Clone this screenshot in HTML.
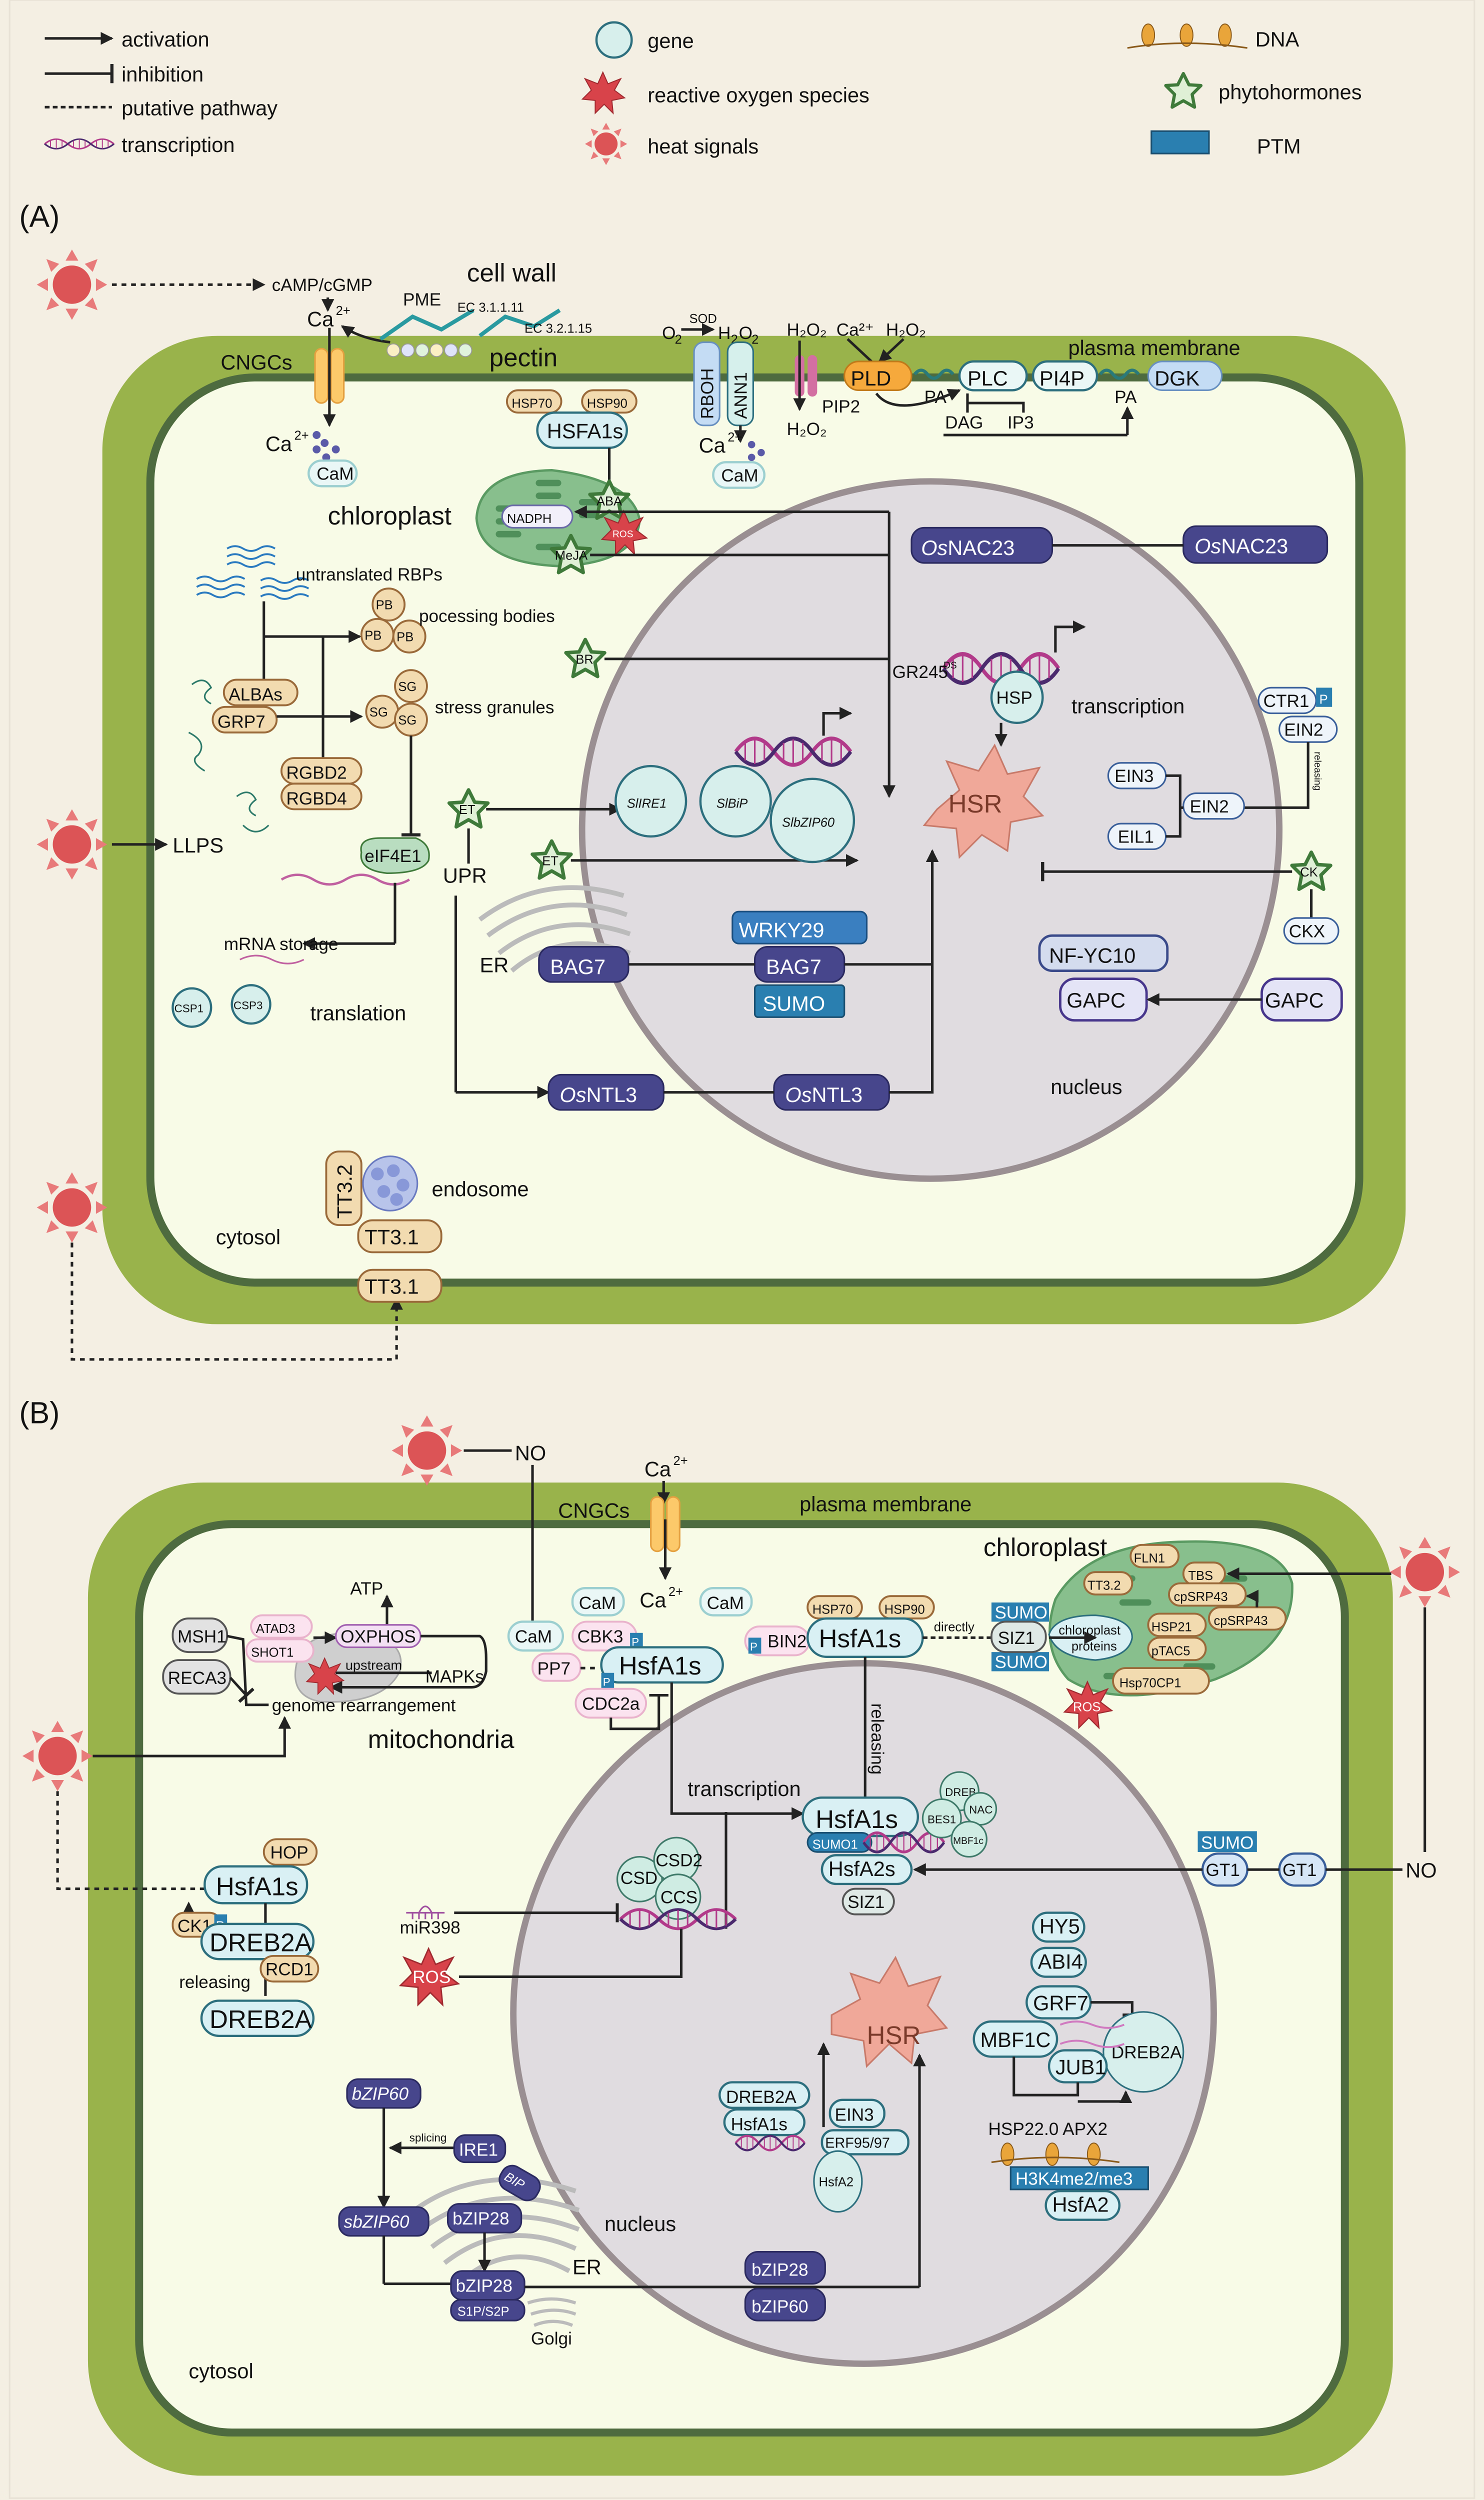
<!DOCTYPE html>
<html><head><meta charset="utf-8"><style>
html,body{margin:0;padding:0;background:#f4efe3;width:2968px;height:5009px;overflow:hidden;position:relative}
svg{display:block;position:absolute;left:0;top:0}
text{font-family:"Liberation Sans",sans-serif;fill:#111}
.t{font-size:11px}.s{font-size:8px}.m{font-size:13px}.l{font-size:16px}.xl{font-size:19px}
.ln{stroke:#222;stroke-width:1.6;fill:none}
.g{fill:#d9f0f4;stroke:#2d6f7e;stroke-width:1.4}
.tan{fill:#f2dbb0;stroke:#9a6a3a;stroke-width:1.2}
.nv{fill:#47468c;stroke:#2b2a60;stroke-width:1}
.pk{fill:#fbe3ef;stroke:#e9b3cc;stroke-width:1.2}
.gr{fill:#e2e2e2;stroke:#555;stroke-width:1.2}
.bl{fill:#d6e6f6;stroke:#3a5f9a;stroke-width:1.4}
.ptm{fill:#2a7fb0}
</style></head><body>
<svg width="2968" height="5009" viewBox="0 0 928 1566" preserveAspectRatio="none" xmlns="http://www.w3.org/2000/svg">
<defs>
<marker id="a" markerWidth="8" markerHeight="8" refX="7" refY="4" orient="auto" markerUnits="userSpaceOnUse"><path d="M0,0 L8,4 L0,8z" fill="#222"/></marker>
<marker id="i" markerWidth="2" markerHeight="12" refX="1" refY="6" orient="auto" markerUnits="userSpaceOnUse"><rect width="2" height="12" fill="#222"/></marker>
<g id="sun"><circle r="12" fill="#dc5456"/><g fill="#e87a7a"><path d="M-4,-15 L0,-22 L4,-15z"/><path d="M-4,15 L0,22 L4,15z"/><path d="M-15,-4 L-22,0 L-15,4z"/><path d="M15,-4 L22,0 L15,4z"/><path d="M-13,-8 L-16,-16 L-8,-13z"/><path d="M13,-8 L16,-16 L8,-13z"/><path d="M-13,8 L-16,16 L-8,13z"/><path d="M13,8 L16,16 L8,13z"/></g></g>
<g id="ros"><path d="M0,-16 L4,-7 L14,-11 L9,-2 L17,4 L7,6 L8,16 L1,9 L-6,16 L-6,6 L-16,5 L-9,-2 L-14,-11 L-4,-7z" fill="#d8434a" stroke="#a02a30" stroke-width="0.8"/></g>
<g id="star"><path d="M0,-11 L3.5,-4 L11,-3.5 L5.5,2 L7,10 L0,6 L-7,10 L-5.5,2 L-11,-3.5 L-3.5,-4z" fill="#dff0d6" stroke="#3f7a3a" stroke-width="2" stroke-linejoin="round"/></g>
<g id="dna"><path d="M0,0 C8,-10 16,-10 24,0 S40,10 48,0 S64,-10 72,0" fill="none" stroke="#b23a8a" stroke-width="2.2"/><path d="M0,0 C8,10 16,10 24,0 S40,-10 48,0 S64,10 72,0" fill="none" stroke="#4b2a6e" stroke-width="2.2"/><g stroke="#b23a8a" stroke-width="1"><path d="M6,-5v10M12,-7v14M18,-5v10M30,-5v10M36,-7v14M42,-5v10M54,-5v10M60,-7v14M66,-5v10"/></g></g>
</defs>
<rect width="928" height="1566" fill="#f4efe3"/>
<rect x="6" y="0" width="916" height="1562" fill="#f4efe3" stroke="#e8e2d6"/>

<!-- LEGEND -->
<line x1="28" y1="24" x2="70" y2="24" class="ln" marker-end="url(#a)"/><text x="76" y="29" class="m">activation</text>
<line x1="28" y1="46" x2="70" y2="46" class="ln" marker-end="url(#i)"/><text x="76" y="51" class="m">inhibition</text>
<line x1="28" y1="67" x2="70" y2="67" class="ln" stroke-dasharray="3,2"/><text x="76" y="72" class="m">putative pathway</text>
<use href="#dna" transform="translate(28,90) scale(0.6,0.4)"/><text x="76" y="95" class="m">transcription</text>
<circle cx="384" cy="25" r="11" class="g" style="fill:#d7efec"/><text x="405" y="30" class="m">gene</text>
<use href="#ros" transform="translate(377,58) scale(0.8)"/><text x="405" y="64" class="m">reactive oxygen species</text>
<use href="#sun" transform="translate(379,90) scale(0.6)"/><text x="405" y="96" class="m">heat signals</text>
<g fill="#e9a53a" stroke="#8a5a1a" stroke-width="0.6"><ellipse cx="718" cy="22" rx="4" ry="7"/><ellipse cx="742" cy="22" rx="4" ry="7"/><ellipse cx="766" cy="22" rx="4" ry="7"/></g>
<path d="M705,30 Q740,24 780,30" stroke="#8a5a1a" fill="none"/><text x="785" y="29" class="m">DNA</text>
<use href="#star" transform="translate(740,57)"/><text x="762" y="62" class="m">phytohormones</text>
<rect x="720" y="82" width="36" height="14" fill="#2a7fb0" stroke="#1a4f70"/><text x="786" y="96" class="m">PTM</text>

<!-- ============ PANEL A ============ -->
<text x="12" y="142" class="xl">(A)</text>
<rect x="64" y="210" width="815" height="618" rx="72" fill="#99b34b"/>
<rect x="94" y="236" width="756" height="566" rx="66" fill="#f8fbe7" stroke="#4e6b3f" stroke-width="5"/>
<circle cx="582" cy="519" r="218" fill="#e0dce0" stroke="#9a8f92" stroke-width="4"/>

<use href="#sun" transform="translate(45,178)"/>
<line x1="70" y1="178" x2="165" y2="178" class="ln" stroke-dasharray="3,3" marker-end="url(#a)"/>
<text x="170" y="182" class="t">cAMP/cGMP</text>
<text x="292" y="176" class="l">cell wall</text>
<text x="192" y="204" class="m">Ca</text><text x="210" y="197" class="s">2+</text>
<line x1="205" y1="186" x2="205" y2="194" class="ln" marker-end="url(#a)"/>
<text x="138" y="231" class="m">CNGCs</text>
<rect x="197" y="218" width="8" height="34" rx="4" fill="#fcc96a" stroke="#e4a040"/><rect x="207" y="218" width="8" height="34" rx="4" fill="#fcc96a" stroke="#e4a040"/>
<line x1="206" y1="205" x2="206" y2="266" class="ln" marker-end="url(#a)"/>
<path d="M244,214 Q226,212 214,204" class="ln" marker-end="url(#a)"/>
<g stroke="#2a9aa0" stroke-width="2.5" fill="none"><path d="M238,212 l20,-14 l18,8 l20,-12 M300,210 l16,-12 l18,6 l16,-10"/></g>
<g fill="#fbefc4" stroke="#999" stroke-width="0.6"><circle cx="246" cy="219" r="4"/><circle cx="255" cy="219" r="4" fill="#dfe4fa"/><circle cx="264" cy="219" r="4" fill="#e0f3dc"/><circle cx="273" cy="219" r="4"/><circle cx="282" cy="219" r="4" fill="#dfe4fa"/><circle cx="291" cy="219" r="4" fill="#e0f3dc"/></g>
<text x="252" y="191" class="t">PME</text><text x="286" y="195" class="s">EC 3.1.1.11</text><text x="328" y="208" class="s">EC 3.2.1.15</text>
<text x="306" y="229" class="l">pectin</text>
<text x="166" y="282" class="m">Ca</text><text x="184" y="275" class="s">2+</text>
<g fill="#5a5aa8"><circle cx="198" cy="272" r="2.5"/><circle cx="203" cy="277" r="2.5"/><circle cx="198" cy="281" r="2.5"/><circle cx="210" cy="281" r="2.5"/><circle cx="204" cy="286" r="2.5"/></g>
<rect x="193" y="288" width="30" height="16" rx="8" class="g" style="fill:#eaf7f6;stroke:#9ccfd0"/><text x="198" y="300" class="t">CaM</text>

<text x="414" y="212" class="t">O</text><text x="422" y="215" class="s">2</text><text x="431" y="202" class="s">SOD</text><line x1="426" y1="206" x2="446" y2="206" class="ln" marker-end="url(#a)"/><text x="449" y="212" class="t">H</text><text x="457" y="215" class="s">2</text><text x="462" y="212" class="t">O</text><text x="470" y="215" class="s">2</text>
<rect x="434" y="214" width="16" height="52" rx="6" fill="#c4dcf4" stroke="#6890c0"/><text transform="translate(446,262) rotate(-90)" class="t">RBOH</text>
<rect x="455" y="214" width="16" height="52" rx="6" fill="#d6f0ec" stroke="#2d6f7e"/><text transform="translate(467,262) rotate(-90)" class="t">ANN1</text>
<line x1="463" y1="266" x2="463" y2="276" class="ln" marker-end="url(#a)"/>
<text x="437" y="283" class="m">Ca</text><text x="455" y="276" class="s">2+</text>
<g fill="#5a5aa8"><circle cx="470" cy="278" r="2.3"/><circle cx="476" cy="283" r="2.3"/><circle cx="470" cy="286" r="2.3"/></g>
<rect x="446" y="289" width="32" height="16" rx="8" class="g" style="fill:#eaf7f6;stroke:#9ccfd0"/><text x="451" y="301" class="t">CaM</text>
<rect x="497" y="222" width="6" height="26" rx="3" fill="#d36fa2"/><rect x="505" y="222" width="6" height="26" rx="3" fill="#d36fa2"/>
<text x="492" y="210" class="t">H₂O₂</text><line x1="500" y1="213" x2="500" y2="256" class="ln" marker-end="url(#a)"/><text x="492" y="272" class="t">H₂O₂</text>
<text x="523" y="210" class="t">Ca²⁺</text><text x="554" y="210" class="t">H₂O₂</text>
<path d="M530,212 L545,226 M565,212 L550,226" class="ln" marker-end="url(#a)"/>
<rect x="528" y="226" width="42" height="18" rx="9" fill="#f6a93c" stroke="#c07a1a"/><text x="532" y="241" class="m">PLD</text>
<text x="514" y="258" class="t">PIP2</text><text x="578" y="252" class="t">PA</text>
<rect x="600" y="226" width="42" height="18" rx="9" class="g" style="fill:#eaf7f6"/><text x="605" y="241" class="m">PLC</text>
<rect x="646" y="226" width="40" height="18" rx="9" class="g" style="fill:#eaf7f6"/><text x="650" y="241" class="m">PI4P</text>
<rect x="718" y="226" width="46" height="18" rx="9" fill="#c4dcf4" stroke="#6890c0"/><text x="722" y="241" class="m">DGK</text>
<text x="668" y="222" class="m">plasma membrane</text>
<g stroke="#2a7a7a" stroke-width="2" fill="none"><path d="M572,234 q4,-5 8,0 q4,5 8,0 q4,-5 8,0 M688,234 q4,-5 8,0 q4,5 8,0 q4,-5 8,0"/></g>
<path d="M548,246 Q560,262 600,244" class="ln" marker-end="url(#a)"/>
<path d="M605,246 L605,258 M605,252 L640,252 L640,258 M590,272 L705,272" class="ln"/>
<text x="591" y="268" class="t">DAG</text><text x="630" y="268" class="t">IP3</text><text x="697" y="252" class="t">PA</text>
<line x1="705" y1="272" x2="705" y2="255" class="ln" marker-end="url(#a)"/>

<rect x="317" y="244" width="34" height="14" rx="7" class="tan"/><text x="320" y="255" class="s">HSP70</text>
<rect x="364" y="244" width="34" height="14" rx="7" class="tan"/><text x="367" y="255" class="s">HSP90</text>
<rect x="336" y="258" width="56" height="22" rx="11" class="g"/><text x="342" y="274" class="m">HSFA1s</text>
<line x1="381" y1="280" x2="381" y2="300" class="ln"/>
<text x="205" y="328" class="l">chloroplast</text>
<path d="M298,324 Q300,295 345,294 Q395,300 400,325 Q398,352 350,354 Q300,352 298,324z" fill="#88bf8d" stroke="#5a9a62" stroke-width="1.5"/>
<g fill="#4f8f5a"><rect x="310" y="316" width="16" height="4" rx="2"/><rect x="310" y="324" width="16" height="4" rx="2"/><rect x="310" y="332" width="16" height="4" rx="2"/><rect x="335" y="300" width="16" height="4" rx="2"/><rect x="335" y="308" width="16" height="4" rx="2"/><rect x="335" y="340" width="16" height="4" rx="2"/><rect x="362" y="312" width="16" height="4" rx="2"/><rect x="362" y="320" width="16" height="4" rx="2"/></g>
<rect x="314" y="316" width="44" height="14" rx="7" fill="#f2f0fa" stroke="#6a6aa8"/><text x="317" y="327" class="s">NADPH</text>
<use href="#star" transform="translate(381,313) scale(1.1)"/><text x="373" y="316" class="s">ABA</text>
<use href="#ros" transform="translate(390,333) scale(0.85)"/><text x="383" y="336" class="s" style="fill:#fff;font-size:6px">ROS</text>
<use href="#star" transform="translate(357,347) scale(1.1)"/><text x="347" y="350" class="s">MeJA</text>
<line x1="556" y1="320" x2="360" y2="320" class="ln" marker-end="url(#a)"/>
<line x1="369" y1="347" x2="556" y2="347" class="ln"/>
<line x1="556" y1="320" x2="556" y2="498" class="ln" marker-end="url(#a)"/>

<rect x="570" y="330" width="88" height="22" rx="8" class="nv"/><text x="576" y="347" class="m" style="fill:#fff"><tspan font-style="italic">Os</tspan>NAC23</text>
<rect x="740" y="329" width="90" height="23" rx="8" class="nv"/><text x="747" y="346" class="m" style="fill:#fff"><tspan font-style="italic">Os</tspan>NAC23</text>
<line x1="658" y1="341" x2="740" y2="341" class="ln"/>

<g stroke="#2a7ac0" stroke-width="1.2" fill="none"><path d="M142,343 q5,-3 10,0 t10,0 t10,0 M142,348 q5,-3 10,0 t10,0 t10,0 M142,353 q5,-3 10,0 t10,0 t10,0 M123,362 q5,-3 10,0 t10,0 t10,0 M123,367 q5,-3 10,0 t10,0 t10,0 M123,372 q5,-3 10,0 t10,0 t10,0 M163,363 q5,-3 10,0 t10,0 t10,0 M163,368 q5,-3 10,0 t10,0 t10,0 M163,373 q5,-3 10,0 t10,0 t10,0"/></g>
<text x="185" y="363" class="t">untranslated RBPs</text>
<line x1="165" y1="376" x2="165" y2="427" class="ln"/>
<line x1="165" y1="398" x2="225" y2="398" class="ln" marker-end="url(#a)"/>
<line x1="202" y1="398" x2="202" y2="474" class="ln"/>
<g class="tan"><circle cx="243" cy="378" r="10"/><circle cx="236" cy="397" r="10"/><circle cx="256" cy="398" r="10"/><circle cx="257" cy="429" r="10"/><circle cx="239" cy="445" r="10"/><circle cx="257" cy="450" r="10"/></g>
<text x="235" y="381" class="s">PB</text><text x="228" y="400" class="s">PB</text><text x="248" y="401" class="s">PB</text>
<text x="249" y="432" class="s">SG</text><text x="231" y="448" class="s">SG</text><text x="249" y="453" class="s">SG</text>
<text x="262" y="389" class="t">pocessing bodies</text>
<text x="272" y="446" class="t">stress granules</text>
<rect x="140" y="425" width="46" height="16" rx="8" class="tan"/><text x="143" y="438" class="t">ALBAs</text>
<rect x="133" y="442" width="40" height="16" rx="8" class="tan"/><text x="136" y="455" class="t">GRP7</text>
<line x1="173" y1="448" x2="226" y2="448" class="ln" marker-end="url(#a)"/>
<rect x="176" y="474" width="50" height="16" rx="8" class="tan"/><text x="179" y="487" class="t">RGBD2</text>
<rect x="176" y="490" width="50" height="16" rx="8" class="tan"/><text x="179" y="503" class="t">RGBD4</text>
<g stroke="#2d7a6a" stroke-width="1" fill="none"><path d="M120,428 q8,-6 12,2 q-8,6 0,10 M118,458 q12,6 6,14 q-6,4 4,10 M148,498 q8,-6 12,2 q-8,6 0,10 M152,516 q8,8 16,0"/></g>
<line x1="257" y1="460" x2="257" y2="522" class="ln" marker-end="url(#i)"/>
<path d="M226,533 Q224,524 238,524 L260,524 Q270,528 268,538 Q264,546 242,546 Q224,544 226,533z" fill="#b9ddc0" stroke="#3f7a3a"/><text x="228" y="539" class="t">eIF4E1</text>
<path d="M176,550 q10,-6 20,0 t20,0 t20,0 t20,0" stroke="#c060a0" fill="none" stroke-width="1.5"/>
<line x1="247" y1="552" x2="247" y2="590" class="ln"/><line x1="247" y1="590" x2="190" y2="590" class="ln" marker-end="url(#a)"/>
<text x="140" y="594" class="t">mRNA storage</text>
<path d="M150,600 q10,-5 20,0 t20,0" stroke="#c060a0" fill="none"/>
<circle cx="120" cy="630" r="12" class="g" style="fill:#d7efec"/><text x="109" y="633" class="s" style="font-size:7px">CSP1</text>
<circle cx="157" cy="628" r="12" class="g" style="fill:#d7efec"/><text x="146" y="631" class="s" style="font-size:7px">CSP3</text>
<text x="194" y="638" class="m">translation</text>

<use href="#sun" transform="translate(45,528)"/>
<line x1="70" y1="528" x2="104" y2="528" class="ln" marker-end="url(#a)"/><text x="108" y="533" class="m">LLPS</text>

<use href="#star" transform="translate(366,412) scale(1.1)"/><text x="360" y="415" class="s">BR</text>
<line x1="378" y1="412" x2="556" y2="412" class="ln"/>
<use href="#star" transform="translate(293,506) scale(1.1)"/><text x="287" y="509" class="s">ET</text>
<line x1="293" y1="518" x2="293" y2="540" class="ln"/>
<line x1="304" y1="506" x2="388" y2="506" class="ln" marker-end="url(#a)"/>
<text x="277" y="552" class="m">UPR</text>
<use href="#star" transform="translate(345,538) scale(1.1)"/><text x="339" y="541" class="s">ET</text>
<line x1="357" y1="538" x2="536" y2="538" class="ln" marker-end="url(#a)"/>
<g stroke="#bbb" stroke-width="3" fill="none"><path d="M300,575 Q340,545 390,560 M305,585 Q345,555 392,572 M312,596 Q348,568 394,584 M320,607 Q352,580 394,596"/></g>
<text x="300" y="608" class="m">ER</text>
<line x1="285" y1="560" x2="285" y2="683" class="ln"/><line x1="285" y1="683" x2="343" y2="683" class="ln" marker-end="url(#a)"/>
<rect x="337" y="592" width="56" height="22" rx="8" class="nv"/><text x="344" y="609" class="m" style="fill:#fff">BAG7</text>
<rect x="458" y="570" width="84" height="20" rx="4" fill="#3a7fc0" stroke="#1a4f80"/><text x="462" y="586" class="m" style="fill:#fff">WRKY29</text>
<rect x="472" y="592" width="56" height="22" rx="8" class="nv"/><text x="479" y="609" class="m" style="fill:#fff">BAG7</text>
<rect x="472" y="616" width="56" height="20" rx="2" class="ptm" stroke="#1a4f70"/><text x="477" y="632" class="m" style="fill:#fff">SUMO</text>
<line x1="393" y1="603" x2="472" y2="603" class="ln"/><line x1="528" y1="603" x2="583" y2="603" class="ln"/>
<rect x="343" y="672" width="72" height="22" rx="8" class="nv"/><text x="350" y="689" class="m" style="fill:#fff"><tspan font-style="italic">Os</tspan>NTL3</text>
<rect x="484" y="672" width="72" height="22" rx="8" class="nv"/><text x="491" y="689" class="m" style="fill:#fff"><tspan font-style="italic">Os</tspan>NTL3</text>
<line x1="415" y1="683" x2="484" y2="683" class="ln"/>
<path d="M556,683 L583,683 L583,532" class="ln" marker-end="url(#a)"/>

<use href="#dna" transform="translate(460,470) scale(1,1.1)"/>
<path d="M515,460 L515,446 L532,446" class="ln" marker-end="url(#a)"/>
<circle cx="407" cy="501" r="22" class="g" style="fill:#d7efec"/><text x="392" y="505" class="s" style="font-style:italic">SlIRE1</text>
<circle cx="460" cy="501" r="22" class="g" style="fill:#d7efec"/><text x="448" y="505" class="s" style="font-style:italic">SlBiP</text>
<circle cx="508" cy="513" r="26" class="g" style="fill:#d7efec"/><text x="489" y="517" class="s" style="font-style:italic">SlbZIP60</text>
<path d="M586,506 L600,494 L592,476 L612,482 L622,466 L630,484 L650,480 L640,498 L652,510 L632,514 L630,532 L614,522 L600,536 L598,518 L578,516z" fill="#f0a899" stroke="#c87a6a"/>
<text x="593" y="508" class="l" style="fill:#7a3a2a">HSR</text>
<use href="#dna" transform="translate(590,418) scale(1,1.2)"/>
<path d="M660,408 L660,392 L678,392" class="ln" marker-end="url(#a)"/>
<circle cx="636" cy="436" r="16" class="g" style="fill:#d7efec"/><text x="623" y="440" class="t">HSP</text>
<text x="670" y="446" class="m">transcription</text>
<text x="558" y="424" class="t">GR245</text><text x="590" y="418" class="s" style="font-size:6px">DS</text>
<line x1="626" y1="452" x2="626" y2="466" class="ln" marker-end="url(#a)"/>
<rect x="787" y="430" width="36" height="16" rx="8" fill="#eef4fa" stroke="#3a5f9a"/><text x="790" y="442" class="t">CTR1</text>
<rect x="823" y="430" width="10" height="12" class="ptm"/><text x="825" y="440" class="s" style="fill:#fff">P</text>
<rect x="800" y="448" width="36" height="16" rx="8" fill="#eef4fa" stroke="#3a5f9a"/><text x="803" y="460" class="t">EIN2</text>
<path d="M818,464 L818,505 L778,505" class="ln"/><text transform="translate(822,470) rotate(90)" class="s" style="font-size:6px">releasing</text>
<rect x="740" y="496" width="38" height="16" rx="8" fill="#eef4fa" stroke="#3a5f9a"/><text x="744" y="508" class="t">EIN2</text>
<rect x="693" y="477" width="36" height="16" rx="8" fill="#eef4fa" stroke="#3a5f9a"/><text x="697" y="489" class="t">EIN3</text>
<rect x="693" y="515" width="36" height="16" rx="8" fill="#eef4fa" stroke="#3a5f9a"/><text x="699" y="527" class="t">EIL1</text>
<path d="M729,485 L738,485 L738,523 L729,523 M738,505 L740,505" class="ln"/>
<use href="#star" transform="translate(820,545) scale(1.1)"/><text x="813" y="548" class="s">CK</text>
<line x1="808" y1="545" x2="652" y2="545" class="ln" marker-end="url(#i)"/>
<line x1="820" y1="556" x2="820" y2="574" class="ln"/>
<rect x="803" y="574" width="34" height="16" rx="8" fill="#eef4fa" stroke="#3a5f9a"/><text x="806" y="586" class="t">CKX</text>
<rect x="650" y="585" width="80" height="22" rx="8" fill="#d4dcee" stroke="#3a4a8a" stroke-width="1.5"/><text x="656" y="602" class="m">NF-YC10</text>
<rect x="663" y="612" width="54" height="26" rx="9" fill="#e4e4f6" stroke="#47368c" stroke-width="1.5"/><text x="667" y="630" class="m">GAPC</text>
<rect x="789" y="612" width="50" height="26" rx="9" fill="#e4e4f6" stroke="#47368c" stroke-width="1.5"/><text x="791" y="630" class="m">GAPC</text>
<line x1="789" y1="625" x2="718" y2="625" class="ln" marker-end="url(#a)"/>
<text x="657" y="684" class="m">nucleus</text>

<use href="#sun" transform="translate(45,755)"/>
<path d="M45,777 L45,850 L248,850 L248,812" class="ln" stroke-dasharray="3,3" marker-end="url(#a)"/>
<text x="135" y="778" class="m">cytosol</text>
<rect x="204" y="720" width="22" height="46" rx="8" class="tan"/><text transform="translate(220,762) rotate(-90)" class="m">TT3.2</text>
<circle cx="244" cy="740" r="17" fill="#b8c4ea" stroke="#6a7ac0"/>
<g fill="#8898d8"><circle cx="236" cy="734" r="4"/><circle cx="246" cy="732" r="4"/><circle cx="252" cy="741" r="4"/><circle cx="240" cy="745" r="4"/><circle cx="248" cy="750" r="4"/></g>
<text x="270" y="748" class="m">endosome</text>
<rect x="224" y="763" width="52" height="20" rx="9" class="tan"/><text x="228" y="778" class="m">TT3.1</text>
<rect x="224" y="794" width="52" height="20" rx="9" class="tan"/><text x="228" y="809" class="m">TT3.1</text>

<!-- ============ PANEL B ============ -->
<text x="12" y="890" class="xl">(B)</text>
<rect x="55" y="927" width="816" height="621" rx="72" fill="#99b34b"/>
<rect x="87" y="953" width="754" height="568" rx="58" fill="#f8fbe7" stroke="#4e6b3f" stroke-width="5"/>
<circle cx="540" cy="1259" r="219" fill="#e0dce0" stroke="#9a8f92" stroke-width="4"/>

<use href="#sun" transform="translate(267,907)"/>
<line x1="290" y1="907" x2="320" y2="907" class="ln"/><text x="322" y="913" class="m">NO</text>
<line x1="333" y1="916" x2="333" y2="1015" class="ln"/>
<text x="403" y="923" class="m">Ca</text><text x="421" y="916" class="s">2+</text>
<line x1="415" y1="926" x2="415" y2="940" class="ln" marker-end="url(#a)"/>
<text x="349" y="949" class="m">CNGCs</text>
<rect x="407" y="936" width="8" height="34" rx="4" fill="#fcc96a" stroke="#e4a040"/><rect x="417" y="936" width="8" height="34" rx="4" fill="#fcc96a" stroke="#e4a040"/>
<line x1="416" y1="950" x2="416" y2="987" class="ln" marker-end="url(#a)"/>
<text x="400" y="1005" class="m">Ca</text><text x="418" y="998" class="s">2+</text>
<text x="500" y="945" class="m">plasma membrane</text>

<line x1="242" y1="1016" x2="242" y2="998" class="ln" marker-end="url(#a)"/><text x="219" y="997" class="t">ATP</text>
<path d="M186,1038 Q190,1020 225,1021 Q255,1025 250,1045 Q240,1066 200,1064 Q180,1060 186,1038z" fill="#cfcfcf" stroke="#aaa"/>
<rect x="157" y="1010" width="38" height="14" rx="7" class="pk"/><text x="160" y="1021" class="s">ATAD3</text>
<rect x="154" y="1025" width="42" height="14" rx="7" class="pk"/><text x="157" y="1036" class="s">SHOT1</text>
<line x1="196" y1="1024" x2="210" y2="1024" class="ln" marker-end="url(#a)"/>
<rect x="210" y="1016" width="53" height="14" rx="7" fill="#f3e0f3" stroke="#a060b0"/><text x="213" y="1027" class="t">OXPHOS</text>
<path d="M263,1023 L300,1023 Q304,1025 304,1037 L304,1045 Q302,1055 295,1055 L207,1055" class="ln" marker-end="url(#a)"/>
<use href="#ros" transform="translate(203,1048) scale(0.7)"/>
<text x="216" y="1044" class="s" style="font-size:8.5px">upstream</text><line x1="270" y1="1046" x2="210" y2="1046" class="ln"/>
<text x="266" y="1052" class="t">MAPKs</text>
<text x="170" y="1070" class="t">genome rearrangement</text>
<rect x="108" y="1012" width="34" height="21" rx="10" class="gr"/><text x="111" y="1027" class="t">MSH1</text>
<rect x="102" y="1038" width="42" height="21" rx="10" class="gr"/><text x="105" y="1053" class="t">RECA3</text>
<path d="M142,1023 L152,1025 L154,1066 L168,1066 M144,1049 L154,1060" class="ln" marker-end="url(#i)"/>
<text x="230" y="1093" class="l">mitochondria</text>
<use href="#sun" transform="translate(36,1098)"/>
<path d="M58,1098 L178,1098 L178,1074" class="ln" marker-end="url(#a)"/>
<path d="M36,1120 L36,1181 L128,1181" class="ln" stroke-dasharray="3,3"/>

<rect x="165" y="1150" width="33" height="16" rx="8" class="tan"/><text x="169" y="1162" class="t">HOP</text>
<rect x="128" y="1167" width="64" height="23" rx="11" class="g"/><text x="135" y="1185" class="l">HsfA1s</text>
<line x1="166" y1="1190" x2="166" y2="1248" class="ln"/>
<line x1="118" y1="1205" x2="118" y2="1190" stroke="#4a5aa8" stroke-width="1.2" marker-end="url(#a)"/>
<rect x="108" y="1196" width="30" height="15" rx="7" class="tan"/><text x="111" y="1208" class="t">CK1</text>
<rect x="134" y="1197" width="8" height="12" class="ptm"/><text x="135" y="1207" class="s" style="fill:#fff">P</text>
<rect x="126" y="1203" width="70" height="22" rx="11" class="g"/><text x="131" y="1220" class="l">DREB2A</text>
<rect x="163" y="1223" width="36" height="16" rx="8" class="tan"/><text x="166" y="1235" class="t">RCD1</text>
<text x="112" y="1243" class="t">releasing</text>
<rect x="126" y="1251" width="70" height="22" rx="11" class="g"/><text x="131" y="1268" class="l">DREB2A</text>

<rect x="318" y="1014" width="34" height="18" rx="9" class="g" style="fill:#eaf7f6;stroke:#9ccfd0"/><text x="322" y="1027" class="t">CaM</text>
<rect x="358" y="993" width="32" height="17" rx="8" class="g" style="fill:#eaf7f6;stroke:#9ccfd0"/><text x="362" y="1006" class="t">CaM</text>
<rect x="438" y="993" width="32" height="17" rx="8" class="g" style="fill:#eaf7f6;stroke:#9ccfd0"/><text x="442" y="1006" class="t">CaM</text>
<rect x="358" y="1014" width="40" height="18" rx="9" class="pk"/><text x="361" y="1027" class="t">CBK3</text>
<rect x="394" y="1021" width="8" height="10" class="ptm"/><text x="395" y="1029" class="s" style="fill:#fff;font-size:7px">P</text>
<rect x="466" y="1017" width="40" height="18" rx="9" class="pk"/><text x="480" y="1030" class="t">BIN2</text>
<rect x="376" y="1030" width="76" height="22" rx="11" class="g"/><text x="387" y="1047" class="l">HsfA1s</text>
<rect x="468" y="1024" width="8" height="10" class="ptm"/><text x="469" y="1032" class="s" style="fill:#fff;font-size:7px">P</text>
<rect x="333" y="1034" width="30" height="17" rx="8" class="pk"/><text x="336" y="1047" class="t">PP7</text>
<line x1="363" y1="1043" x2="375" y2="1043" class="ln" stroke-dasharray="3,3"/>
<rect x="376" y="1046" width="8" height="10" class="ptm"/><text x="377" y="1054" class="s" style="fill:#fff;font-size:7px">P</text>
<rect x="360" y="1056" width="44" height="18" rx="9" class="pk"/><text x="364" y="1069" class="t">CDC2a</text>
<path d="M382,1074 L382,1081 L412,1081 L412,1060 M406,1060 L418,1060" class="ln"/>
<path d="M420,1052 L420,1134 L502,1134" class="ln" marker-end="url(#a)"/>

<rect x="505" y="998" width="34" height="14" rx="7" class="tan"/><text x="508" y="1009" class="s">HSP70</text>
<rect x="550" y="998" width="34" height="14" rx="7" class="tan"/><text x="553" y="1009" class="s">HSP90</text>
<rect x="505" y="1012" width="72" height="24" rx="12" class="g"/><text x="512" y="1030" class="l">HsfA1s</text>
<line x1="577" y1="1024" x2="620" y2="1024" class="ln" stroke-dasharray="3,2"/><text x="584" y="1020" class="s">directly</text>
<rect x="620" y="1002" width="36" height="12" class="ptm"/><text x="622" y="1012" class="t" style="fill:#fff">SUMO</text>
<rect x="620" y="1033" width="36" height="12" class="ptm"/><text x="622" y="1043" class="t" style="fill:#fff">SUMO</text>
<rect x="620" y="1014" width="34" height="19" rx="9" class="gr" style="fill:#dfe9e6"/><text x="624" y="1028" class="t">SIZ1</text>
<text x="615" y="973" class="l">chloroplast</text>
<path d="M660,1000 Q680,965 740,964 Q800,962 808,990 Q810,1030 760,1050 Q700,1070 668,1050 Q650,1030 660,1000z" fill="#88bf8d" stroke="#5a9a62" stroke-width="1.5"/>
<g fill="#4f8f5a"><rect x="690" y="985" width="20" height="4" rx="2"/><rect x="700" y="1000" width="20" height="4" rx="2"/><rect x="760" y="985" width="20" height="4" rx="2"/><rect x="690" y="1046" width="20" height="4" rx="2"/><rect x="740" y="1040" width="20" height="4" rx="2"/></g>
<path d="M656,1022 Q660,1010 685,1010 Q708,1012 708,1024 Q706,1036 685,1038 Q660,1036 656,1022z" fill="#d9f0f4" stroke="#2d6f7e"/>
<text x="662" y="1022" class="s">chloroplast</text><text x="670" y="1032" class="s">proteins</text>
<line x1="656" y1="1024" x2="685" y2="1024" class="ln" marker-end="url(#a)"/>
<rect x="707" y="966" width="30" height="14" rx="7" class="tan"/><text x="709" y="977" class="s">FLN1</text>
<rect x="678" y="983" width="30" height="14" rx="7" class="tan"/><text x="680" y="994" class="s">TT3.2</text>
<rect x="740" y="977" width="26" height="14" rx="7" class="tan"/><text x="743" y="988" class="s">TBS</text>
<rect x="731" y="990" width="48" height="14" rx="7" class="tan"/><text x="734" y="1001" class="s">cpSRP43</text>
<rect x="756" y="1005" width="48" height="14" rx="7" class="tan"/><text x="759" y="1016" class="s">cpSRP43</text>
<path d="M786,1005 L786,998 L780,998" class="ln" marker-end="url(#a)"/>
<rect x="718" y="1009" width="36" height="14" rx="7" class="tan"/><text x="720" y="1020" class="s">HSP21</text>
<rect x="718" y="1024" width="36" height="14" rx="7" class="tan"/><text x="720" y="1035" class="s">pTAC5</text>
<rect x="696" y="1043" width="60" height="16" rx="8" class="tan"/><text x="700" y="1055" class="s">Hsp70CP1</text>
<use href="#ros" transform="translate(680,1066) scale(0.9)"/><text x="671" y="1070" class="s" style="fill:#fff">ROS</text>
<use href="#sun" transform="translate(891,983)"/>
<line x1="870" y1="984" x2="768" y2="984" class="ln" marker-end="url(#a)"/>
<line x1="891" y1="1005" x2="891" y2="1158" class="ln"/>
<text x="879" y="1174" class="m">NO</text>

<line x1="541" y1="1036" x2="541" y2="1125" class="ln"/>
<text transform="translate(545,1065) rotate(90)" class="t">releasing</text>
<text x="430" y="1123" class="m">transcription</text>
<rect x="502" y="1124" width="72" height="24" rx="12" class="g"/><text x="510" y="1143" class="l">HsfA1s</text>
<rect x="505" y="1146" width="40" height="12" rx="6" fill="#2a7fb0" stroke="#1a4f70"/><text x="508" y="1156" class="s" style="fill:#fff">SUMO1</text>
<use href="#dna" transform="translate(540,1152) scale(0.7,0.8)"/>
<circle cx="600" cy="1120" r="12" fill="#cfece3" stroke="#3f7a6a"/><text x="591" y="1123" class="s" style="font-size:7px">DREB</text>
<circle cx="589" cy="1137" r="12" fill="#cfece3" stroke="#3f7a6a"/><text x="580" y="1140" class="s" style="font-size:7px">BES1</text>
<circle cx="613" cy="1131" r="10" fill="#cfece3" stroke="#3f7a6a"/><text x="606" y="1134" class="s" style="font-size:7px">NAC</text>
<circle cx="606" cy="1150" r="11" fill="#cfece3" stroke="#3f7a6a"/><text x="596" y="1153" class="s" style="font-size:6px">MBF1c</text>
<rect x="514" y="1160" width="56" height="18" rx="9" class="g"/><text x="518" y="1173" class="m">HsfA2s</text>
<rect x="527" y="1181" width="32" height="16" rx="8" class="gr" style="fill:#dfe9e6"/><text x="530" y="1193" class="t">SIZ1</text>
<rect x="749" y="1145" width="37" height="13" class="ptm"/><text x="751" y="1156" class="t" style="fill:#fff">SUMO</text>
<rect x="752" y="1159" width="28" height="20" rx="10" class="bl"/><text x="754" y="1173" class="t">GT1</text>
<rect x="800" y="1159" width="29" height="20" rx="10" class="bl"/><text x="802" y="1173" class="t">GT1</text>
<line x1="780" y1="1169" x2="800" y2="1169" class="ln"/><line x1="829" y1="1169" x2="877" y2="1169" class="ln"/>
<line x1="752" y1="1169" x2="572" y2="1169" class="ln" marker-end="url(#a)"/>

<line x1="454" y1="1133" x2="454" y2="1206" class="ln"/>
<text x="250" y="1209" class="t">miR398</text>
<path d="M254,1196 h24 M258,1196v4 M262,1196v4 M266,1196v4 M270,1196v4 M274,1196v4 M262,1196 q4,-8 8,0" stroke="#a050a0" fill="none"/>
<line x1="284" y1="1196" x2="386" y2="1196" class="ln" marker-end="url(#i)"/>
<circle cx="400" cy="1175" r="14" fill="#cfece3" stroke="#3f7a6a"/><text x="388" y="1178" class="t">CSD</text>
<circle cx="423" cy="1163" r="14" fill="#cfece3" stroke="#3f7a6a"/><text x="410" y="1167" class="t">CSD2</text>
<circle cx="424" cy="1186" r="14" fill="#cfece3" stroke="#3f7a6a"/><text x="413" y="1190" class="t">CCS</text>
<use href="#dna" transform="translate(388,1200) scale(1,0.8)"/>
<use href="#ros" transform="translate(268,1236) scale(1.1)"/><text x="258" y="1240" class="t" style="fill:#fff">ROS</text>
<path d="M287,1236 L426,1236 L426,1206" class="ln"/>

<g transform="translate(0,14)">
<path d="M520,1246 L538,1236 L532,1220 L550,1226 L560,1210 L568,1228 L588,1222 L580,1240 L592,1254 L572,1258 L570,1276 L556,1264 L542,1278 L540,1262 L520,1258z" fill="#f0a899" stroke="#c87a6a"/>
<text x="542" y="1264" class="l" style="fill:#7a3a2a">HSR</text>
</g>
<rect x="646" y="1196" width="32" height="18" rx="9" class="g"/><text x="650" y="1209" class="m">HY5</text>
<rect x="645" y="1218" width="34" height="18" rx="9" class="g"/><text x="649" y="1231" class="m">ABI4</text>
<rect x="642" y="1242" width="40" height="20" rx="10" class="g"/><text x="646" y="1257" class="m">GRF7</text>
<path d="M682,1252 L708,1252 L708,1260" class="ln" marker-end="url(#i)"/>
<circle cx="715" cy="1283" r="25" fill="#d7efec" stroke="#2d6f7e"/><text x="695" y="1287" class="t">DREB2A</text>
<rect x="609" y="1264" width="52" height="22" rx="11" class="g"/><text x="613" y="1280" class="m">MBF1C</text>
<path d="M663,1266 q10,-4 20,0 t20,0 M663,1278 q10,-4 20,0 t20,0" stroke="#d07ac0" fill="none" stroke-width="1.2"/>
<rect x="656" y="1282" width="36" height="20" rx="10" class="g"/><text x="660" y="1297" class="m">JUB1</text>
<path d="M634,1286 L634,1310 L674,1310 L674,1302 M674,1314 L704,1314 L704,1308" class="ln" marker-end="url(#a)"/>
<text x="618" y="1335" class="t">HSP22.0 APX2</text>
<g fill="#e9a53a" stroke="#8a5a1a" stroke-width="0.6"><ellipse cx="630" cy="1347" rx="4" ry="7"/><ellipse cx="658" cy="1347" rx="4" ry="7"/><ellipse cx="684" cy="1347" rx="4" ry="7"/></g>
<path d="M620,1352 Q660,1346 700,1352" stroke="#8a5a1a" fill="none"/>
<rect x="632" y="1355" width="86" height="14" class="ptm" stroke="#1a4f70"/><text x="635" y="1366" class="t" style="fill:#fff">H3K4me2/me3</text>
<rect x="654" y="1370" width="46" height="18" rx="9" class="g"/><text x="658" y="1383" class="m">HsfA2</text>

<line x1="515" y1="1330" x2="515" y2="1278" class="ln" marker-end="url(#a)"/>
<line x1="575" y1="1430" x2="575" y2="1285" class="ln" marker-end="url(#a)"/>
<rect x="450" y="1302" width="56" height="16" rx="8" class="g"/><text x="454" y="1315" class="t">DREB2A</text>
<rect x="453" y="1319" width="50" height="16" rx="8" class="g"/><text x="457" y="1332" class="t">HsfA1s</text>
<use href="#dna" transform="translate(460,1340) scale(0.6,0.6)"/>
<rect x="519" y="1313" width="34" height="17" rx="8" class="g"/><text x="522" y="1326" class="t">EIN3</text>
<rect x="514" y="1332" width="54" height="15" rx="7" class="g"/><text x="516" y="1343" class="s" style="font-size:9px">ERF95/97</text>
<ellipse cx="524" cy="1364" rx="15" ry="19" fill="#d7efec" stroke="#2d6f7e"/><text x="512" y="1367" class="s">HsfA2</text>

<rect x="217" y="1300" width="46" height="18" rx="7" class="nv"/><text x="220" y="1313" class="t" style="fill:#fff;font-style:italic">bZIP60</text>
<line x1="240" y1="1318" x2="240" y2="1380" class="ln" marker-end="url(#a)"/>
<line x1="286" y1="1343" x2="244" y2="1343" class="ln" marker-end="url(#a)"/><text x="256" y="1339" class="s" style="font-size:7px">splicing</text>
<rect x="284" y="1335" width="32" height="17" rx="7" class="nv"/><text x="287" y="1348" class="t" style="fill:#fff">IRE1</text>
<g stroke="#bbb" stroke-width="3" fill="none"><path d="M255,1385 Q300,1350 360,1370 M262,1395 Q305,1362 362,1382 M270,1405 Q310,1374 362,1394 M278,1415 Q315,1386 360,1406 M290,1425 Q320,1400 356,1420"/></g>
<rect x="212" y="1380" width="56" height="18" rx="7" class="nv"/><text x="215" y="1393" class="t" style="fill:#fff;font-style:italic">sbZIP60</text>
<rect x="280" y="1378" width="46" height="18" rx="7" class="nv"/><text x="283" y="1391" class="t" style="fill:#fff">bZIP28</text>
<rect x="312" y="1357" width="26" height="16" rx="7" class="nv" transform="rotate(30,325,1365)"/><text x="315" y="1368" class="s" style="fill:#fff;font-style:italic" transform="rotate(30,325,1365)">BIP</text>
<line x1="303" y1="1396" x2="303" y2="1420" class="ln" marker-end="url(#a)"/>
<line x1="240" y1="1398" x2="240" y2="1428" class="ln"/><line x1="240" y1="1428" x2="282" y2="1428" class="ln"/>
<rect x="282" y="1420" width="46" height="18" rx="7" class="nv"/><text x="285" y="1433" class="t" style="fill:#fff">bZIP28</text>
<rect x="282" y="1438" width="46" height="13" rx="6" class="nv"/><text x="286" y="1448" class="s" style="fill:#fff">S1P/S2P</text>
<g stroke="#bbb" stroke-width="2" fill="none"><path d="M330,1440 q15,-5 30,0 M332,1447 q15,-5 28,0 M334,1454 q12,-5 24,0"/></g>
<text x="332" y="1466" class="t">Golgi</text>
<text x="358" y="1422" class="m">ER</text>
<text x="378" y="1395" class="m">nucleus</text>
<line x1="328" y1="1430" x2="575" y2="1430" class="ln"/>
<rect x="466" y="1408" width="50" height="20" rx="8" class="nv"/><text x="470" y="1423" class="t" style="fill:#fff">bZIP28</text>
<rect x="466" y="1431" width="50" height="20" rx="8" class="nv"/><text x="470" y="1446" class="t" style="fill:#fff">bZIP60</text>
<text x="118" y="1487" class="m">cytosol</text>
</svg>
</body></html>
